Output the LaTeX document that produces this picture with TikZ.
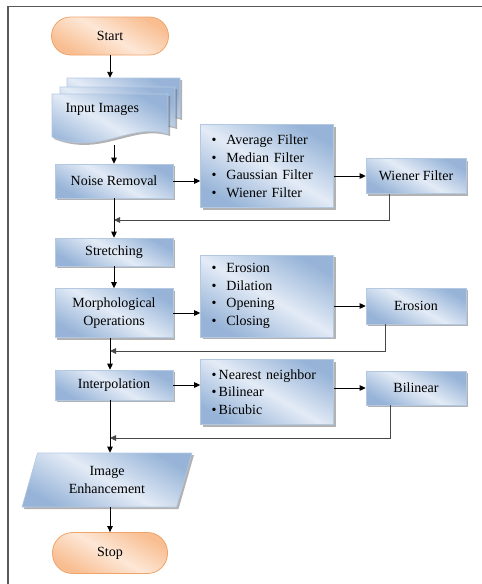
\documentclass[tikz,border=0pt]{standalone}
\usepackage{fontspec}
\setmainfont{Liberation Serif}
\usetikzlibrary{shapes.geometric, shadows, arrows.meta}
\definecolor{bluelt}{HTML}{E3EBF6}
\definecolor{bluedk}{HTML}{97B4D8}
\definecolor{blueln}{HTML}{B4C8E2}
\definecolor{orglt}{HTML}{FDE7D6}
\definecolor{orgdk}{HTML}{F8BD90}
\definecolor{orgln}{HTML}{EFA46C}
\tikzset{
    txt/.style={font=\fontsize{14}{17.5}\selectfont},
    box/.style={txt, draw=blueln, line width=0.6pt, top color=bluedk, bottom color=bluedk,
      middle color=bluelt, shading angle=-30, inner sep=0pt,
      drop shadow={shadow xshift=2pt, shadow yshift=-2pt, fill=black!60}},
    doc/.style={draw=blueln, line width=0.6pt, top color=bluedk, bottom color=bluedk,
      middle color=bluelt, shading angle=-30,
      drop shadow={shadow xshift=2pt, shadow yshift=-2pt, fill=black!60}},
    list/.style={box, text width=111pt, inner xsep=11pt, align=left},
    term/.style={txt, draw=orgln, line width=0.8pt, top color=orgdk, bottom color=orgdk,
      middle color=orglt, shading angle=-30, inner sep=0pt},
    arr/.style={-{Triangle[length=6pt,width=5.5pt]}, line width=0.9pt},
    back/.style={draw=black!72, line width=1.6pt}
}

\begin{document}
\begin{tikzpicture}[x=1pt, y=-1pt]
          \useasboundingbox (0,0) rectangle (482,584);
          \draw[black!65, line width=1.6pt] (8,584) -- (8,6.5) -- (482,6.5);
          % start and input
          \node [term, minimum width=117pt, minimum height=38pt, rounded corners=19pt] (start) at (110,36) {Start};
          \foreach \dx/\dy/\w in {15/-16/113, 8/-7/115, 0/0/116}
            \draw[doc, shift={(\dx,\dy)}] (52,94) -- ++(\w,0) -- (52+\w,134)
              .. controls (130,122) and (100,156) .. (52,137) -- cycle;
          \node [txt, anchor=west] at (62,109) {Input Images};
          \node [minimum width=128pt, minimum height=67pt] (inp) at (116,111.5) {};
          % noise removal
          \node [box, minimum width=118pt, minimum height=34pt] (noise) at (114,181) {Noise Removal};
          \node [list, minimum height=83pt] (lst1) at (267,166)
            {\textbullet\hspace{10pt}Average Filter\\\textbullet\hspace{10pt}Median Filter\\
             \textbullet\hspace{10pt}Gaussian Filter\\\textbullet\hspace{10pt}Wiener Filter};
          \node [box, minimum width=100pt, minimum height=35pt] (wien) at (416,176) {Wiener Filter};
          % stretching and morphology
          \node [box, minimum width=118pt, minimum height=28pt] (stretch) at (114,252) {Stretching};
          \node [box, minimum width=118pt, minimum height=49pt, align=center] (morph) at (114,313)
            {Morphological\\Operations};
          \node [list, minimum height=82pt] (lst2) at (267,296)
            {\textbullet\hspace{10pt}Erosion\\\textbullet\hspace{10pt}Dilation\\
             \textbullet\hspace{10pt}Opening\\\textbullet\hspace{10pt}Closing};
          \node [box, minimum width=100pt, minimum height=36pt] (eros) at (416,306) {Erosion};
          % interpolation
          \node [box, minimum width=118pt, minimum height=30pt] (interp) at (114,385) {Interpolation};
          \node [list, minimum height=65pt] (lst3) at (267,392)
            {\textbullet\,Nearest neighbor\\\textbullet\,Bilinear\\\textbullet\,Bicubic};
          \node [box, minimum width=100pt, minimum height=34pt] (bil) at (416,388) {Bilinear};
          % enhancement and stop
          \node [box, trapezium, trapezium left angle=60, trapezium right angle=120,
            trapezium stretches body, minimum width=170pt, minimum height=54pt, align=center]
            (enh) at (107,480) {Image\\Enhancement};
          \node [term, minimum width=115pt, minimum height=41pt, rounded corners=20pt] (stop) at (110,553) {Stop};
          \coordinate (j1) at (114,220);
          \coordinate (j2) at (110,351);
          \coordinate (j3) at (110,438);
          % connectors
          \draw[arr] (start) -- (start |- inp.north);
          \draw[arr] (noise |- inp.south) -- (noise);
          \draw[arr] (noise) -- (noise -| lst1.west);
          \draw[arr] (wien -| lst1.east) -- (wien);
          \draw[back, arr] ([xshift=24pt]wien.south west) |- (j1);
          \draw[arr] (noise) -- (stretch);
          \draw[arr] (stretch) -- (morph);
          \draw[arr] (morph) -- (morph -| lst2.west);
          \draw[arr] (eros -| lst2.east) -- (eros);
          \draw[back, arr] ([xshift=20pt]eros.south west) |- (j2);
          \draw[arr] (j2 |- morph.south) -- (j2 |- interp.north);
          \draw[arr] (interp) -- (interp -| lst3.west);
          \draw[arr] (bil -| lst3.east) -- (bil);
          \draw[back, arr] ([xshift=25pt]bil.south west) |- (j3);
          \draw[arr] (j3 |- interp.south) -- (j3 |- enh.north);
          \draw[arr] (stop |- enh.south) -- (stop);
        \end{tikzpicture}
\end{document}
